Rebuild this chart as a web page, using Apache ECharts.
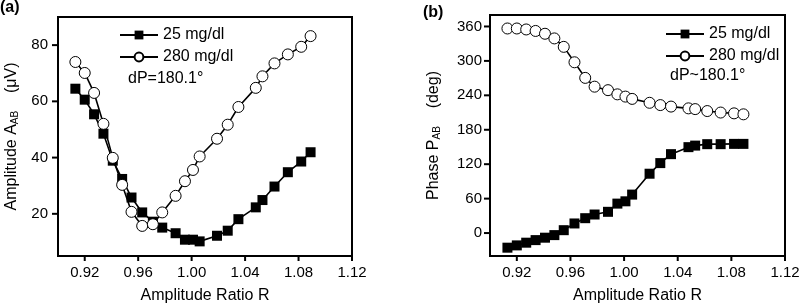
<!DOCTYPE html>
<html>
<head>
<meta charset="utf-8">
<script src="https://cdn.jsdelivr.net/npm/echarts@6/dist/echarts.min.js"></script>
<style>
html, body { margin: 0; padding: 0; background: #fff; }
#chart { width: 800px; height: 304px; }
</style>
</head>
<body>
<div id="chart"></div>
<script>
// amplitude ratio R (same points in both panels)
const ratioR = [0.913, 0.920, 0.927, 0.934, 0.941, 0.948, 0.955, 0.963, 0.971, 0.978, 0.988, 0.995,
  1.001, 1.006, 1.019, 1.027, 1.035, 1.048, 1.053, 1.062, 1.072, 1.082, 1.089]
// (a) amplitude A_AB, uV
const amp25 = [64.5, 60.6, 55.4, 48.5, 38.9, 32.4, 25.8, 20.5, 17.2, 15.1, 13.1, 10.8,
  10.8, 10.2, 12.2, 14.0, 18.1, 22.3, 24.9, 29.7, 34.8, 38.6, 41.9]
const amp280 = [74.0, 70.1, 63.0, 52.0, 39.9, 30.3, 20.7, 15.7, 16.3, 20.5, 26.4, 31.6,
  35.6, 40.4, 46.7, 51.7, 58.0, 64.8, 68.9, 73.5, 76.7, 79.4, 83.2]
// (b) phase P_AB, deg
const phase25 = [-25.5, -21.5, -16.8, -12.3, -8.1, -3.6, 5.0, 16.7, 25.9, 32.3, 37.0, 51.3,
  55.3, 67.0, 103.4, 121.9, 137.5, 149.7, 152.4, 154.9, 154.9, 155.4, 155.4]
const phase280 = [356.5, 356.5, 354.8, 352.2, 347.3, 339.2, 324.5, 297.6, 270.4, 255.1, 249.0, 241.7,
  237.8, 233.8, 227.0, 223.0, 220.4, 217.3, 216.0, 212.6, 210.0, 208.6, 206.9]

// tick labels
const xTicks = [0.92, 0.96, 1.00, 1.04, 1.08, 1.12]
const ampTicks = [20, 40, 60, 80]
const phaseTicks = [0, 60, 120, 180, 240, 300, 360]
const names = ['25 mg/dl', '280 mg/dl']

const FONT = '"Liberation Sans", Arial, sans-serif'
const X_MIN = 0.9
const X_MAX = 1.12

function pairs(ys) {
  return ratioR.map((r, i) => [r, ys[i]])
}

// only label the values listed in the tick arrays
function pick(list, digits) {
  return v => (list.some(t => Math.abs(t - v) < 1e-6) ? v.toFixed(digits) : '')
}

function xAxisOf(gridIndex) {
  return {
    type: 'value',
    gridIndex: gridIndex,
    min: X_MIN,
    max: X_MAX,
    interval: 0.02,
    name: 'Amplitude Ratio R',
    nameLocation: 'middle',
    nameGap: 32,
    nameTextStyle: { fontSize: 16, color: '#000' },
    axisLine: { show: true, onZero: false, lineStyle: { color: '#000', width: 2 } },
    axisTick: { show: false },
    axisLabel: { formatter: pick(xTicks, 2), showMinLabel: true, showMaxLabel: true, fontSize: 15, color: '#000', margin: 9 },
    splitLine: { show: false }
  }
}

function yAxisOf(gridIndex, min, max, step, ticks, name, gap, margin) {
  return {
    type: 'value',
    gridIndex: gridIndex,
    min: min,
    max: max,
    interval: step,
    name: name,
    nameLocation: 'middle',
    nameGap: gap,
    nameTextStyle: {
      fontSize: 16,
      color: '#000',
      rich: { sub: { fontSize: 10, verticalAlign: 'bottom', color: '#000' } }
    },
    axisLine: { show: true, onZero: false, lineStyle: { color: '#000', width: 2 } },
    axisTick: { show: false },
    axisLabel: { formatter: pick(ticks, 0), fontSize: 15, color: '#000', margin: margin },
    splitLine: { show: false }
  }
}

function squareSeries(idx, ys) {
  return {
    name: names[0],
    type: 'line',
    xAxisIndex: idx,
    yAxisIndex: idx,
    data: pairs(ys),
    symbol: 'rect',
    symbolSize: 10,
    lineStyle: { color: '#000', width: 1.6 },
    itemStyle: { color: '#000' }
  }
}

function circleSeries(idx, ys) {
  return {
    name: names[1],
    type: 'line',
    xAxisIndex: idx,
    yAxisIndex: idx,
    data: pairs(ys),
    symbol: 'circle',
    symbolSize: 11,
    lineStyle: { color: '#000', width: 1.6 },
    itemStyle: { color: '#fff', borderColor: '#000', borderWidth: 1 }
  }
}

const legendBase = {
  orient: 'vertical',
  padding: 0,
  itemWidth: 38,
  itemHeight: 11,
  itemGap: 6,
  data: names,
  selectedMode: false,
  textStyle: { fontSize: 16, color: '#000', fontFamily: FONT }
}
const titleStyle = { fontSize: 16, fontWeight: 'bold', color: '#000', fontFamily: FONT }

const notes = [
  { type: 'text', left: 128, top: 71, style: { text: 'dP=180.1°', font: '16px ' + FONT, fill: '#000' } },
  { type: 'text', left: 670, top: 68, style: { text: 'dP~180.1°', font: '16px ' + FONT, fill: '#000' } }
]

const chart = echarts.init(document.getElementById('chart'))
const option = {
  backgroundColor: '#fff',
  animation: false,
  textStyle: { fontFamily: FONT },
  // panel letters
  title: [
    { text: '(a)', left: 0, top: 0, padding: 0, textStyle: titleStyle },
    { text: '(b)', left: 423, top: 5, padding: 0, textStyle: titleStyle }
  ],
  grid: [
    { left: 58, top: 17, width: 294, height: 239, outerBoundsMode: 'none', show: true, borderColor: '#000', borderWidth: 2 },
    { left: 490, top: 15, width: 295, height: 241, outerBoundsMode: 'none', show: true, borderColor: '#000', borderWidth: 2 }
  ],
  xAxis: [xAxisOf(0), xAxisOf(1)],
  yAxis: [
    yAxisOf(0, 5, 90, 5, ampTicks, 'Amplitude A{sub|AB}    (μV)', 38, 10),
    yAxisOf(1, -40, 380, 20, phaseTicks, 'Phase P{sub|AB}    (deg)', 48, 8)
  ],
  legend: [
    Object.assign({ left: 119, top: 27 }, legendBase),
    Object.assign({ left: 665, top: 26 }, legendBase)
  ],
  graphic: notes,
  series: [
    squareSeries(0, amp25),
    circleSeries(0, amp280),
    squareSeries(1, phase25),
    circleSeries(1, phase280)
  ]
}
try {
  chart.setOption(option)
} catch (e) {
  console.error(e)
}

// box and outward ticks, placed through the chart's own scales
function frameOf(gi, yMin, yMax, yTicks) {
  const toPx = v => chart.convertToPixel({ gridIndex: gi }, v)
  const line = { stroke: '#000', lineWidth: 2 }
  const tl = toPx([X_MIN, yMax])
  const br = toPx([X_MAX, yMin])
  const els = [{
    type: 'rect',
    z: 100,
    shape: { x: tl[0], y: tl[1], width: br[0] - tl[0], height: br[1] - tl[1] },
    style: { fill: 'none', stroke: '#000', lineWidth: 2 }
  }]
  xTicks.forEach(v => {
    const p = toPx([v, yMin])
    els.push({ type: 'line', z: 100, shape: { x1: p[0], y1: p[1], x2: p[0], y2: p[1] + 5 }, style: line })
  })
  yTicks.forEach(v => {
    const p = toPx([X_MIN, v])
    els.push({ type: 'line', z: 100, shape: { x1: p[0] - 6, y1: p[1], x2: p[0], y2: p[1] }, style: line })
  })
  return els
}

try {
  chart.setOption({
    graphic: notes.concat(frameOf(0, 5, 90, ampTicks), frameOf(1, -40, 380, phaseTicks))
  })
} catch (e) {
  console.error(e)
}
</script>
</body>
</html>
